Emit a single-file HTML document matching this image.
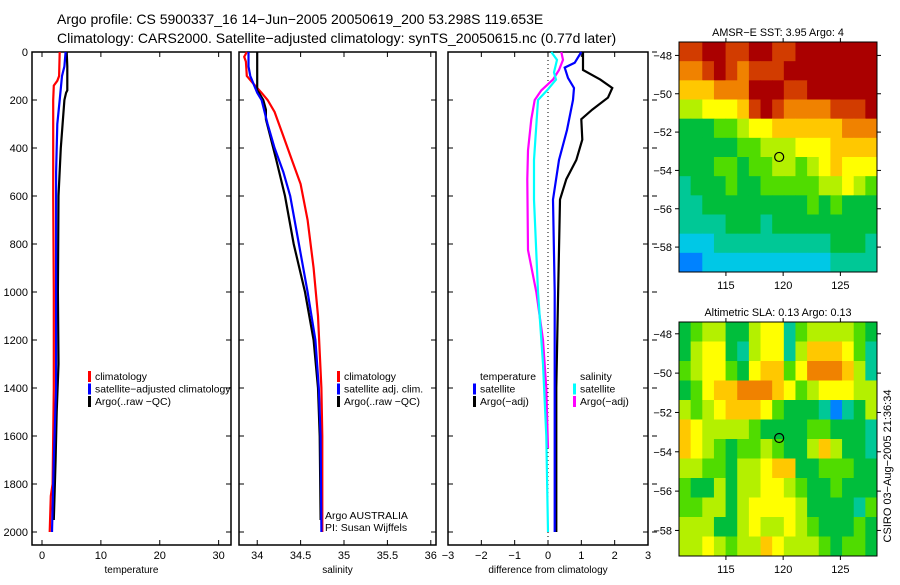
<!DOCTYPE html>
<html><head><meta charset="utf-8">
<style>
body{margin:0;background:#fff;}
svg text{font-family:"Liberation Sans",sans-serif;fill:#000;}
</style></head>
<body>
<svg id="fig" width="900" height="580" xmlns="http://www.w3.org/2000/svg">
<rect width="900" height="580" fill="#fff"/>
<text x="57" y="24" font-size="14">Argo profile: CS 5900337_16 14−Jun−2005 20050619_200 53.298S 119.653E</text>
<text x="57" y="43" font-size="14">Climatology: CARS2000. Satellite−adjusted climatology: synTS_20050615.nc (0.77d later)</text>
<g id="g"></g>
</svg>
<script>
// ---- data ----
const tDepthClim=[0,100,120,140,200,600,1000,1400,1800,1850,2000];
const tClim=[3,2.9,2.6,2.0,1.9,1.9,2.0,2.0,1.8,1.5,1.3];
const tDepthSat=[0,60,100,200,300,500,1000,1400,1700,2000];
const tSat=[4,3.8,3.4,3.0,2.6,2.4,2.4,2.4,2.0,1.7];
const tDepthArgo=[0,60,160,170,200,300,400,600,1000,1300,1500,1700,1950];
const tArgo=[4.2,4.3,4.3,4.1,3.8,3.5,3.2,2.8,2.7,2.8,2.5,2.3,2.0];

const sDepthClim=[0,20,40,100,130,170,200,250,350,450,550,700,900,1100,1400,1600,2000];
const sClim=[33.88,33.85,33.87,33.88,33.95,34.05,34.12,34.2,34.3,34.4,34.5,34.58,34.65,34.7,34.74,34.75,34.75];
const sDepthSat=[0,60,100,170,200,300,400,500,600,800,1000,1200,1400,1600,2000];
const sSat=[33.9,33.9,33.92,34.0,34.05,34.12,34.2,34.3,34.38,34.48,34.58,34.67,34.71,34.73,34.74];
const sDepthArgo=[0,160,170,200,240,280,350,450,600,800,1000,1200,1400,1600,1950];
const sArgo=[34.0,34.0,34.02,34.07,34.1,34.1,34.15,34.22,34.32,34.42,34.55,34.65,34.7,34.72,34.73];

const dDepthTArgo=[0,75,115,150,190,240,280,365,450,530,615,1030,1400,2000];
const dTArgo=[1.05,1.05,1.57,1.93,1.8,1.33,1.0,1.03,0.85,0.55,0.36,0.3,0.25,0.25];
const dDepthTSat=[0,45,65,108,150,200,325,450,615,1000,1500,2000];
const dTSat=[1.0,0.8,0.5,0.6,0.78,0.75,0.57,0.33,0.15,0.2,0.2,0.2];
const dDepthSSat=[0,33,85,115,160,200,325,450,615,1000,1300,1600,2000];
const dSSat=[0.1,0.27,0.18,0.24,-0.03,-0.3,-0.36,-0.42,-0.42,-0.3,-0.15,-0.05,0];
const dDepthSArgo=[0,33,75,115,160,200,280,410,530,825,1000,1200,1400,1650];
const dSArgo=[0.4,0.45,0.33,0.15,-0.2,-0.4,-0.5,-0.6,-0.62,-0.6,-0.35,-0.15,-0.05,0];

const depthTicks=[0,200,400,600,800,1000,1200,1400,1600,1800,2000];
const tempTicks=[0,10,20,30];
const salTicks=[34,34.5,35,35.5,36];
const diffTicks=[-3,-2,-1,0,1,2,3];

const sstGrid=[
[9,9,10,10,9,9,10,10,9,9,10,10,10,10,10,10,10],
[8,8,9,10,9,8,9,9,9,10,10,10,10,10,10,10,10],
[7,7,7,8,8,8,10,10,10,9,9,10,10,10,10,10,10],
[5,5,6,6,6,7,9,10,9,8,8,8,8,9,9,9,10],
[3,3,3,4,4,5,6,6,7,7,7,7,7,7,8,8,8],
[3,3,3,3,3,4,4,5,5,5,6,6,6,7,7,7,7],
[3,3,3,4,4,3,4,4,5,5,4,5,6,7,6,6,6],
[2,3,3,3,4,3,3,4,4,4,4,4,5,5,6,5,4],
[2,2,3,3,3,3,3,3,3,3,3,4,3,4,3,3,3],
[2,2,2,2,3,3,3,2,3,3,3,3,3,3,3,3,3],
[1,1,1,2,2,2,2,2,2,2,2,2,2,3,3,3,2],
[0,0,1,1,1,1,1,1,1,1,1,1,1,2,2,2,2]];
const slaGrid=[
[3,4,5,5,3,3,5,6,6,2,4,5,5,5,5,4,3],
[3,5,6,6,3,2,5,6,6,2,5,7,7,7,6,4,2],
[4,5,6,6,4,3,6,7,7,4,6,8,8,8,7,5,2],
[3,4,6,7,7,8,8,8,7,6,4,5,6,6,6,5,5],
[5,4,5,6,7,7,7,6,4,3,3,3,2,0,2,3,5],
[7,6,5,5,5,5,4,3,3,3,3,4,4,3,3,3,2],
[7,6,5,4,3,4,4,5,4,3,3,5,7,5,3,3,2],
[5,5,4,4,3,5,5,6,7,7,3,3,4,4,4,3,3],
[4,3,3,5,3,5,5,6,6,5,4,3,3,4,3,3,3],
[4,4,5,5,3,5,6,6,6,6,5,3,3,3,3,2,4],
[5,5,5,3,3,5,6,5,5,6,5,4,3,3,3,4,3],
[5,5,6,5,4,5,5,7,6,5,5,5,4,3,4,4,3]];
const lonTicks=[115,120,125];
const latTicks=[-48,-50,-52,-54,-56,-58];
const argoLon=119.653, argoLat=-53.298;

// ---- drawing ----
const NS="http://www.w3.org/2000/svg";
const G=document.getElementById('g');
function mk(tag,attrs,parent){const e=document.createElementNS(NS,tag);for(const k in attrs)e.setAttribute(k,attrs[k]);(parent||G).appendChild(e);return e;}
function txt(x,y,s,size,anchor){const e=mk('text',{x:x,y:y,'font-size':size||11,'text-anchor':anchor||'start'});e.textContent=s;return e;}
const PT=52,PB=545;
const yD=d=>PT+d*0.24;
function panel(name,x0,x1,xmin,xmax,xt,label,leftLabels,rightTicks){
  const xs=v=>x0+(v-xmin)/(xmax-xmin)*(x1-x0);
  const f=mk('rect',{x:x0,y:PT,width:x1-x0,height:PB-PT,fill:'none',stroke:'#000','stroke-width':1.5});
  
  
  depthTicks.forEach(d=>{
    mk('line',{x1:x0,x2:x0+5,y1:yD(d),y2:yD(d),stroke:'#000'});
    mk('line',{x1:x1,x2:x1-5,y1:yD(d),y2:yD(d),stroke:'#000'});
    if(rightTicks) mk('line',{x1:x1+4,x2:x1+9,y1:yD(d),y2:yD(d),stroke:'#000'});
    if(leftLabels){const t=txt(28,yD(d)+4,String(d),11,'end');
      
      }
  });
  xt.forEach(v=>{
    mk('line',{x1:xs(v),x2:xs(v),y1:PB,y2:PB-5,stroke:'#000'});
    mk('line',{x1:xs(v),x2:xs(v),y1:PT,y2:PT+5,stroke:'#000'});
    const t=txt(xs(v),559,String(v).replace('-','−'),11,'middle');
    
    
  });
  const l=txt((x0+x1)/2,573,label,10,'middle');
  
  
  return xs;
}
function line(xs,depths,vals,color,name,w){
  const pts=depths.map((d,i)=>xs(vals[i]).toFixed(1)+','+yD(d).toFixed(1)).join(' ');
  const p=mk('polyline',{points:pts,fill:'none',stroke:color,'stroke-width':w||2.2,'stroke-linejoin':'miter'});
  
  
}
function legend(x,y,items){
  items.forEach((it,i)=>{
    if(it[1]) mk('rect',{x:x,y:y+i*12.5-9,width:3,height:11,fill:it[1]});
    const t=txt(x+7,y+i*12.5,it[0],10.4);
    
    
  });
}
// temperature
const xT=panel('temperature',32,231,-1.7,32.1,tempTicks,'temperature',true,false);
line(xT,tDepthClim,tClim,'#f00','temp-climatology-line');
line(xT,tDepthArgo,tArgo,'#000','temp-argo-line');
line(xT,tDepthSat,tSat,'#00f','temp-satellite-line');
legend(88,380,[['climatology','#f00'],['satellite−adjusted climatology','#00f'],['Argo(..raw −QC)','#000']]);
// salinity
const xS=panel('salinity',239,436,33.79,36.06,salTicks,'salinity',false,false);
line(xS,sDepthClim,sClim,'#f00','sal-climatology-line');
line(xS,sDepthArgo,sArgo,'#000','sal-argo-line');
line(xS,sDepthSat,sSat,'#00f','sal-satellite-line');
legend(337,380,[['climatology','#f00'],['satellite adj. clim.','#00f'],['Argo(..raw −QC)','#000']]);
txt(325,519,'Argo AUSTRALIA',10.5);
txt(325,531,'PI: Susan Wijffels',10.5);
// difference
const xD=panel('difference',448,648,-3,3,diffTicks,'difference from climatology',false,true);
mk('line',{x1:xD(0),x2:xD(0),y1:PT,y2:PB,stroke:'#000','stroke-dasharray':'1,3'});
line(xD,dDepthTArgo,dTArgo,'#000','diff-temp-argo-line');
line(xD,dDepthTSat,dTSat,'#00f','diff-temp-satellite-line');
line(xD,dDepthSArgo,dSArgo,'#f0f','diff-sal-argo-line');
line(xD,dDepthSSat,dSSat,'#0ff','diff-sal-satellite-line');
legend(473,380,[['temperature',null],['satellite','#00f'],['Argo(−adj)','#000']]);
legend(573,380,[['salinity',null],['satellite','#0ff'],['Argo(−adj)','#f0f']]);
// maps
const cmap=['#0082ff','#00c8e6','#00c896','#00be3c','#50dc00','#b4f000','#ffff00','#ffc800','#f08200','#d23c00','#aa0000'];
function map(name,top,bot,latTop,latBot,grid,title){
  const x0=679,x1=877,lonMin=110.9,lonMax=128.2;
  const xs=v=>x0+(v-lonMin)/(lonMax-lonMin)*(x1-x0);
  const ys=v=>top+(latTop-v)/(latTop-latBot)*(bot-top);
  const g=mk('g',{});
  
  
  const rows=grid.length,cols=grid[0].length;
  for(let r=0;r<rows;r++)for(let c=0;c<cols;c++){
    const la=latTop-r*(latTop-latBot)/rows, lo=lonMin+c*(lonMax-lonMin)/cols;
    const la2=latTop-(r+1)*(latTop-latBot)/rows, lo2=lonMin+(c+1)*(lonMax-lonMin)/cols;
    const cell=mk('rect',{x:xs(lo),y:ys(la),width:xs(lo2)-xs(lo)+0.5,height:ys(la2)-ys(la)+0.5,fill:cmap[grid[r][c]]},g);
    
    
  }
  mk('rect',{x:x0,y:top,width:x1-x0,height:bot-top,fill:'none',stroke:'#000'});
  lonTicks.forEach(v=>{mk('line',{x1:xs(v),x2:xs(v),y1:top,y2:top-4,stroke:'#000'});mk('line',{x1:xs(v),x2:xs(v),y1:bot,y2:bot+4,stroke:'#000'});
    txt(xs(v),bot+17,String(v),11,'middle');});
  latTicks.forEach(v=>{mk('line',{x1:x0,x2:x0-4,y1:ys(v),y2:ys(v),stroke:'#000'});mk('line',{x1:x1,x2:x1+4,y1:ys(v),y2:ys(v),stroke:'#000'});
    txt(x0-7,ys(v)+4,String(v).replace('-','−'),11,'end');});
  const c=mk('circle',{cx:xs(argoLon),cy:ys(argoLat),r:4.5,fill:'none',stroke:'#000','stroke-width':1.2});
  
  
  const t=txt((x0+x1)/2,top-6,title,10.8,'middle');
  
  
}
map('sst-map',42,272,-47.3,-59.3,sstGrid,'AMSR−E SST: 3.95 Argo: 4');
map('sla-map',322,556,-47.4,-59.3,slaGrid,'Altimetric SLA: 0.13 Argo: 0.13');
const v=txt(0,0,'CSIRO 03−Aug−2005 21:36:34',11,'middle');
v.setAttribute('transform','translate(891,466) rotate(-90)');


</script>
</body></html>
